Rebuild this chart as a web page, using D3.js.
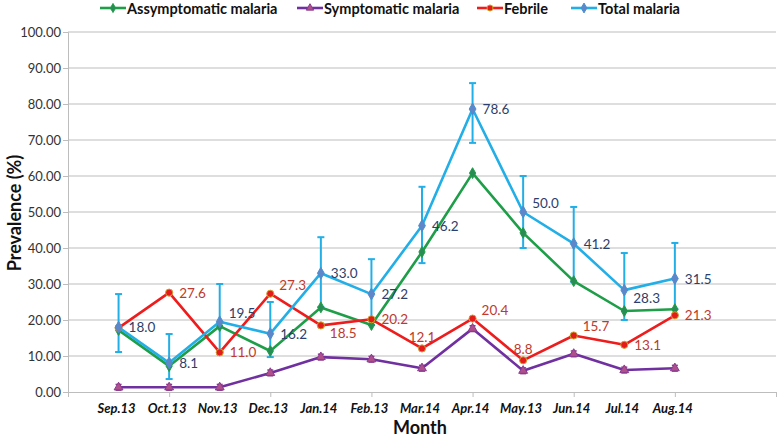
<!DOCTYPE html>
<html>
<head>
<meta charset="utf-8">
<script src="https://cdn.jsdelivr.net/npm/d3@7"></script>
<style>
  html, body { margin: 0; padding: 0; background: #fff; }
  svg { display: block; font-family: Lato, "Open Sans", sans-serif; }
</style>
</head>
<body>
<div id="chart"></div>
<script>
// DATA
var months = ["Sep.13", "Oct.13", "Nov.13", "Dec.13", "Jan.14", "Feb.13", "Mar.14", "Apr.14", "May.13", "Jun.14", "Jul.14", "Aug.14"];
var asymptomatic = [17.2, 7.2, 18.3, 11.4, 23.5, 18.6, 38.9, 60.8, 44.2, 30.8, 22.5, 23.0];
var symptomatic = [1.3, 1.3, 1.3, 5.3, 9.7, 9.1, 6.6, 17.6, 5.9, 10.6, 6.1, 6.6];
var symptomaticErr = [0.8, 0.8, 0.8, 0.8, 0.8, 0.8, 0.8, 0.8, 0.8, 0.8, 0.8, 0.8];
var febrile = [17.8, 27.6, 11.0, 27.3, 18.5, 20.2, 12.1, 20.4, 8.8, 15.7, 13.1, 21.3];
var total = [18.0, 8.1, 19.5, 16.2, 33.0, 27.2, 46.2, 78.6, 50.0, 41.2, 28.3, 31.5];
var totalLow = [11.1, 3.6, 11.3, 9.7, 23.6, 18.6, 35.8, 69.2, 40.0, 30.6, 20.0, 23.0];
var totalHigh = [27.2, 16.1, 30.0, 25.0, 43.0, 36.9, 57.0, 85.8, 60.0, 51.4, 38.6, 41.4];
var yTicks = [0, 10, 20, 30, 40, 50, 60, 70, 80, 90, 100];

// where each data label sits relative to its point
var febrileLabelPos = [null, "r", "r", "ar", "br", "r", "a", "ar", "a", "ar", "r", "r"];
var totalLabelPos = ["r", "r", "ar", "r", "r", "r", "r", "r", "ar", "r", "br", "r"];

// SETUP
var W = 778, H = 438;
var svg = d3.select("#chart").append("svg").attr("width", W).attr("height", H);

var x = d3.scaleLinear().domain([-1, 13]).range([68, 776]);
var y = d3.scaleLinear().domain([0, 100]).range([392, 32]);

var series = [
	{ name: "Assymptomatic malaria", values: asymptomatic, color: "#1E9E48", marker: d3.symbolDiamond, mfill: "#2A8C55", mstroke: "#1E9E48", msize: 34 },
	{ name: "Symptomatic malaria", values: symptomatic, color: "#7030A0", marker: d3.symbolTriangle, mfill: "#B0508A", mstroke: "#8A3A90", msize: 34 },
	{ name: "Febrile", values: febrile, color: "#EE1C1C", marker: d3.symbolCircle, mfill: "#E51B1B", mstroke: "#C9A227", msize: 40 },
	{ name: "Total malaria", values: total, color: "#22AEE6", marker: d3.symbolDiamond, mfill: "#5E86C8", mstroke: "#4A8FD0", msize: 40 }
];

// GRID + AXES
var grid = svg.append("g");
grid.selectAll("line").data(yTicks.slice(1)).enter().append("line")
	.attr("x1", x(-1)).attr("x2", x(13))
	.attr("y1", function(d) { return y(d); }).attr("y2", function(d) { return y(d); })
	.attr("stroke", "#BDBDBD").attr("stroke-width", 1);

var yAxis = svg.append("g").attr("transform", "translate(" + x(-1) + ",0)")
	.call(d3.axisLeft(y).tickValues(yTicks).tickFormat(d3.format(".2f")).tickSize(5).tickPadding(2));
yAxis.selectAll("path, line").attr("stroke", "#BDBDBD");
yAxis.selectAll("text").attr("font-size", 13).attr("fill", "#333").style("font-family", "Lato, sans-serif");

var xAxis = svg.append("g").attr("transform", "translate(0," + y(0) + ")")
	.call(d3.axisBottom(x).tickValues(d3.range(-1, 14, 2)).tickFormat("").tickSizeOuter(0).tickSize(5));
xAxis.selectAll("path, line").attr("stroke", "#BDBDBD");

svg.append("g").selectAll("text").data(months).enter().append("text")
	.attr("x", function(d, i) { return x(i) - 2; })
	.attr("y", 413)
	.attr("text-anchor", "middle")
	.attr("font-size", 13).attr("font-weight", "bold").attr("font-style", "italic")
	.attr("fill", "#111")
	.text(function(d) { return d; });

svg.append("text").attr("x", 420).attr("y", 434).attr("text-anchor", "middle")
	.attr("font-size", 18).attr("font-weight", "bold").attr("fill", "#111").text("Month");

svg.append("text").attr("transform", "translate(21,213)rotate(-90)").attr("text-anchor", "middle")
	.attr("font-size", 18).attr("font-weight", "bold").attr("fill", "#111").text("Prevalence (%)");

// ERROR BARS
function errorBars(g, centers, lo, hi, color, cap, width) {
	centers.forEach(function(v, i) {
		var cx = x(i);
		g.append("line").attr("x1", cx).attr("x2", cx).attr("y1", y(lo[i])).attr("y2", y(hi[i]))
			.attr("stroke", color).attr("stroke-width", width);
		[lo[i], hi[i]].forEach(function(e) {
			g.append("line").attr("x1", cx - cap).attr("x2", cx + cap).attr("y1", y(e)).attr("y2", y(e))
				.attr("stroke", color).attr("stroke-width", width);
		});
	});
}

var data_layer = svg.append("g");
var line = d3.line().x(function(d, i) { return x(i); }).y(function(d) { return y(d); });

errorBars(data_layer.append("g"), total, totalLow, totalHigh, "#22AEE6", 3.5, 2);
errorBars(data_layer.append("g"), symptomatic,
	symptomatic.map(function(v, i) { return v - symptomaticErr[i]; }),
	symptomatic.map(function(v, i) { return v + symptomaticErr[i]; }), "#8A3A90", 3, 1.5);

series.forEach(function(s) {
	var g = data_layer.append("g");
	g.append("path").datum(s.values).attr("d", line)
		.attr("fill", "none").attr("stroke", s.color).attr("stroke-width", 2.6).attr("stroke-linejoin", "round");
	g.selectAll("path.m").data(s.values).enter().append("path").attr("class", "m")
		.attr("transform", function(d, i) { return "translate(" + x(i) + "," + y(d) + ")"; })
		.attr("d", d3.symbol().type(s.marker).size(s.msize))
		.attr("fill", s.mfill).attr("stroke", s.mstroke).attr("stroke-width", 1);
});

// DATA LABELS
function labels(values, pos, color) {
	var g = svg.append("g");
	values.forEach(function(v, i) {
		var p = pos[i];
		if (!p) return;
		var lx = x(i), ly = y(v), anchor = "start";
		if (p === "r") { lx += 10; ly += 5; }
		else if (p === "ar") { lx += 9; ly -= 4; }
		else if (p === "br") { lx += 9; ly += 13; }
		else if (p === "a") { anchor = "middle"; ly -= 6; }
		g.append("text").attr("x", lx).attr("y", ly).attr("text-anchor", anchor)
			.attr("font-size", 13.5).attr("fill", color).text(v.toFixed(1));
	});
}
labels(febrile, febrileLabelPos, "#C0392B");
labels(total, totalLabelPos, "#2C3E6B");

// LEGEND
var legendX = [100, 297, 477, 571];
var legend = svg.append("g");
series.forEach(function(s, i) {
	var lg = legend.append("g").attr("transform", "translate(" + legendX[i] + ",8)");
	lg.append("line").attr("x1", 0).attr("x2", 26).attr("stroke", s.color).attr("stroke-width", 2.6);
	lg.append("path").attr("transform", "translate(13,0)")
		.attr("d", d3.symbol().type(s.marker).size(s.msize * 0.7))
		.attr("fill", s.mfill).attr("stroke", s.mstroke).attr("stroke-width", 1);
	lg.append("text").attr("x", 27).attr("y", 6).attr("font-size", 14.5).attr("font-weight", "bold")
		.attr("fill", "#111").text(s.name);
});
</script>
</body>
</html>
